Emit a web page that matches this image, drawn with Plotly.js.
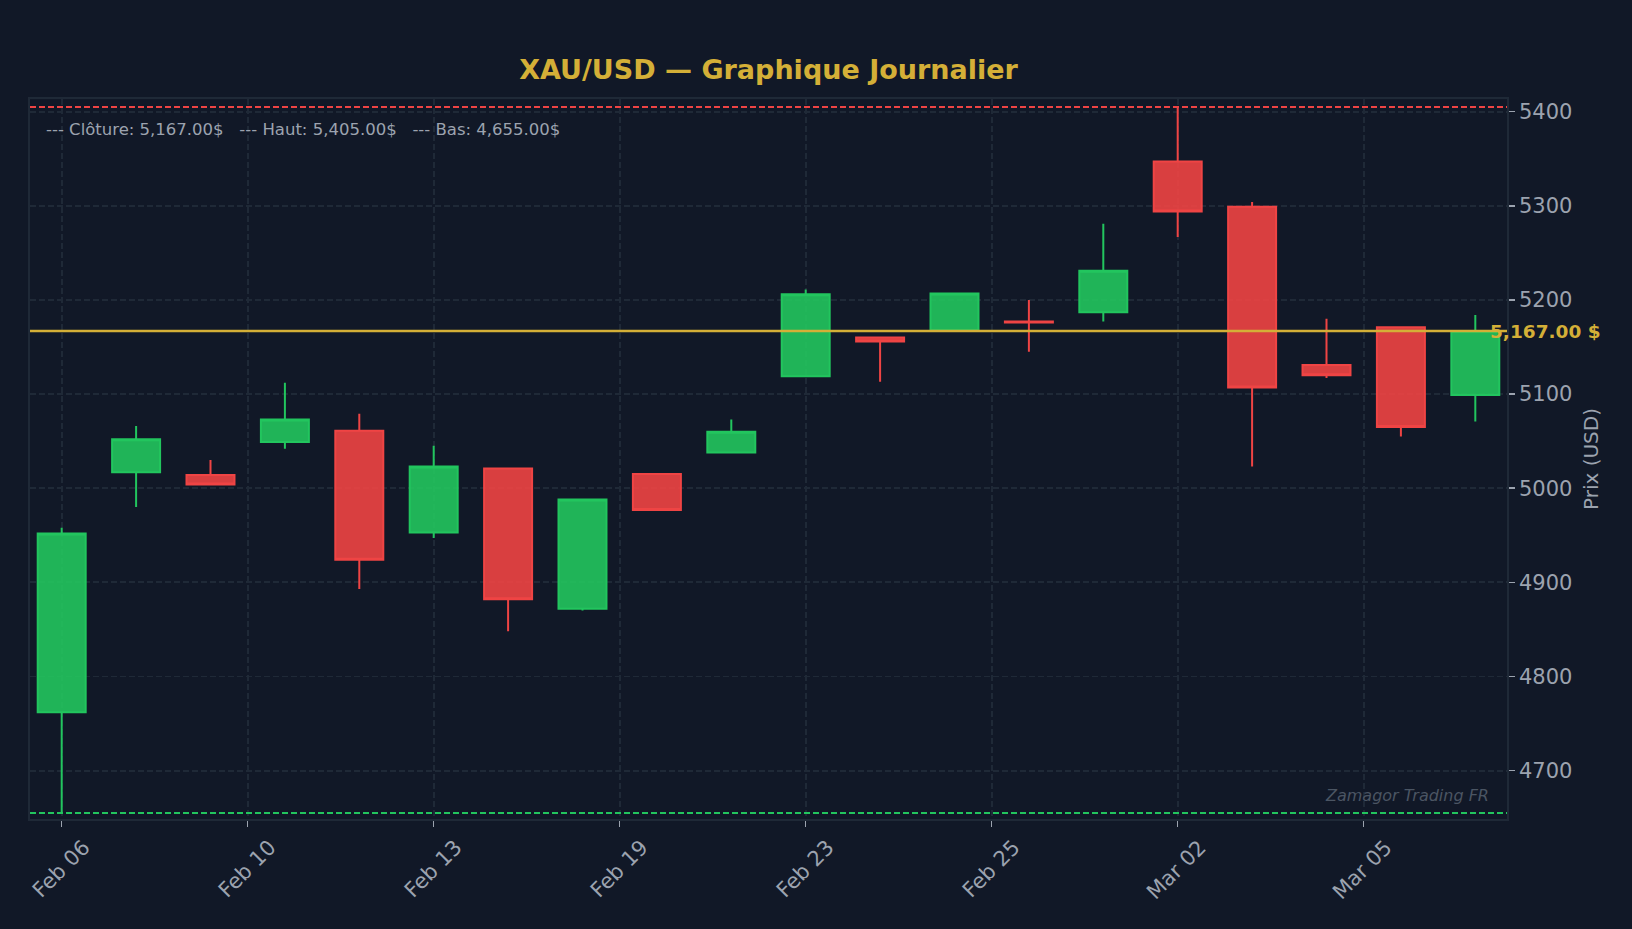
<!DOCTYPE html>
<html>
<head>
<meta charset="utf-8">
<script src="https://cdn.plot.ly/plotly-3.0.1.min.js"></script>
<style>
  html, body { margin: 0; padding: 0; background: #111827; }
  #chart { width: 1632px; height: 929px; }
</style>
</head>
<body>
<div id="chart"></div>
<script>
// daily XAU/USD candles
var dates = ['Feb 06', 'Feb 09', 'Feb 10', 'Feb 11', 'Feb 12', 'Feb 13', 'Feb 17', 'Feb 18', 'Feb 19', 'Feb 20',
             'Feb 23', 'Feb 24', 'Feb 25', 'Feb 26', 'Feb 27', 'Mar 02', 'Mar 03', 'Mar 04', 'Mar 05', 'Mar 06'];
var opens  = [4762, 5017, 5014, 5049, 5061, 4953, 5021, 4872, 5015, 5038, 5119, 5160, 5168, 5177, 5187, 5347, 5299, 5131, 5171, 5099];
var highs  = [4958, 5066, 5030, 5112, 5079, 5045, 5021, 4988, 5015, 5073, 5211, 5160, 5207, 5200, 5281, 5405, 5304, 5180, 5171, 5184];
var lows   = [4655, 4980, 5004, 5042, 4893, 4947, 4848, 4870, 4977, 5038, 5119, 5113, 5168, 5145, 5177, 5267, 5023, 5117, 5055, 5071];
var closes = [4952, 5052, 5004, 5073, 4924, 5023, 4882, 4988, 4977, 5060, 5206, 5156, 5207, 5176, 5231, 5294, 5107, 5120, 5065, 5167];

var tickPos = [0, 2.5, 5, 7.5, 10, 12.5, 15, 17.5];
var tickLabels = ['Feb 06', 'Feb 10', 'Feb 13', 'Feb 19', 'Feb 23', 'Feb 25', 'Mar 02', 'Mar 05'];

var GREEN = '#22c55e', RED = '#ef4444', GOLD = '#d4af37', GRID = '#1f2937', TXT = '#9ca3af';

var idx = dates.map(function (d, i) { return i; });
var lastClose = closes[closes.length - 1];
var hi = Math.max.apply(null, highs);
var lo = Math.min.apply(null, lows);

var fmt = function (v) {
    return v.toLocaleString('en-US', {minimumFractionDigits: 2, maximumFractionDigits: 2});
};

var candles = {
    type: 'candlestick',
    x: idx,
    open: opens,
    high: highs,
    low: lows,
    close: closes,
    text: dates,
    increasing: {line: {color: GREEN, width: 2}, fillcolor: 'rgba(34,197,94,0.9)'},
    decreasing: {line: {color: RED, width: 2}, fillcolor: 'rgba(239,68,68,0.9)'},
    hoverinfo: 'text',
    showlegend: false
};

var hline = function (y, color, dash, width) {
    return {type: 'line', xref: 'paper', x0: 0, x1: 1, yref: 'y', y0: y, y1: y,
            line: {color: color, dash: dash, width: width}, layer: 'above'};
};

var sp = '\u00a0\u00a0\u00a0';
var infoText = '--- Clôture: ' + fmt(lastClose) + '$' + sp + '--- Haut: ' + fmt(hi) + '$' + sp + '--- Bas: ' + fmt(lo) + '$';

var layout = {
    width: 1632,
    height: 929,
    paper_bgcolor: '#111827',
    plot_bgcolor: '#111827',
    font: {family: 'DejaVu Sans', color: TXT, size: 21},
    margin: {l: 30, r: 125, t: 99, b: 110},
    title: {
        text: 'XAU/USD — Graphique Journalier',
        font: {family: 'DejaVu Sans', size: 27, color: GOLD, weight: 'bold'},
        x: 0.5, xref: 'paper', xanchor: 'center',
        y: 0.925, yref: 'container', yanchor: 'middle'
    },
    boxgap: 0.355,
    boxgroupgap: 0,
    xaxis: {
        range: [-0.426, 19.426],
        tickvals: tickPos,
        ticktext: tickLabels,
        tickangle: -45,
        ticklabelshift: 22,
        ticks: 'outside', ticklen: 6, tickwidth: 1.5, tickcolor: TXT,
        tickfont: {size: 21, color: TXT},
        showgrid: true, gridcolor: GRID, griddash: '6px,3px', gridwidth: 1.8,
        showline: true, mirror: true, linecolor: GRID, linewidth: 1.8,
        zeroline: false,
        rangeslider: {visible: false},
        fixedrange: true
    },
    yaxis: {
        side: 'right',
        range: [4648.6, 5413.5],
        dtick: 100,
        tickformat: 'd',
        ticks: 'outside', ticklen: 6, tickwidth: 1.5, tickcolor: TXT,
        tickfont: {size: 21, color: TXT},
        showgrid: true, gridcolor: GRID, griddash: '6px,3px', gridwidth: 1.8,
        showline: true, mirror: true, linecolor: GRID, linewidth: 1.8,
        zeroline: false,
        title: {text: 'Prix (USD)', font: {size: 20, color: TXT}, standoff: 12},
        fixedrange: true
    },
    shapes: [
        hline(hi, RED, '6px,3px', 2),
        hline(lo, GREEN, '6px,3px', 2),
        hline(lastClose, GOLD, 'solid', 2.6)
    ],
    annotations: [
        {xref: 'paper', yref: 'paper', x: 0.0095, y: 0.957, xanchor: 'left', yanchor: 'middle',
         text: infoText, showarrow: false, font: {size: 16.5, color: TXT}},
        {xref: 'paper', yref: 'y', x: 0.987, y: lastClose, xanchor: 'left', yanchor: 'middle',
         text: fmt(lastClose) + ' $', showarrow: false,
         font: {size: 18.5, color: GOLD, weight: 'bold'}},
        {xref: 'paper', yref: 'paper', x: 0.989, y: 0.032, xanchor: 'right', yanchor: 'middle',
         text: 'Zamagor Trading FR', showarrow: false,
         font: {size: 16, color: '#4b5563', style: 'italic'}}
    ]
};

Plotly.newPlot('chart', [candles], layout, {displayModeBar: false, staticPlot: true});
</script>
</body>
</html>
